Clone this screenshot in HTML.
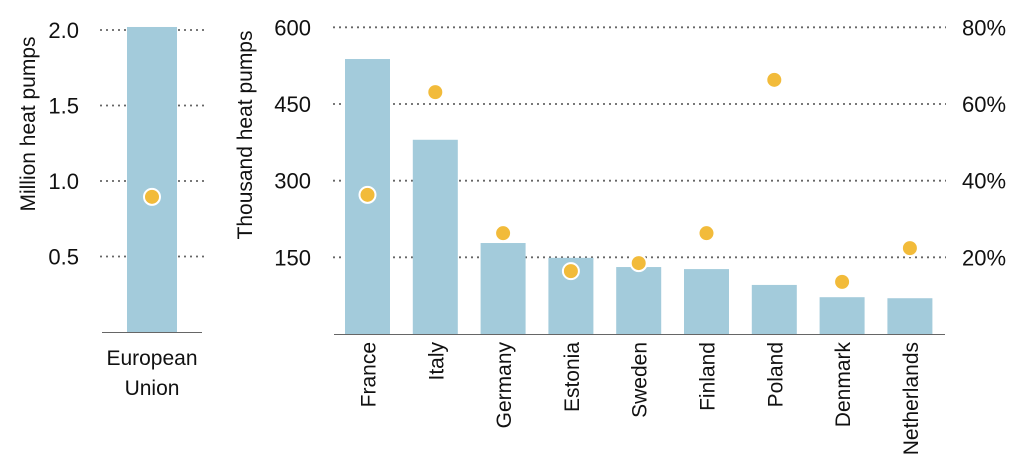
<!DOCTYPE html>
<html><head><meta charset="utf-8"><style>
html,body{margin:0;padding:0;background:#fff;}
svg{display:block;font-family:"Liberation Sans",sans-serif;}
</style></head><body>
<svg id="c" width="1024" height="476" viewBox="0 0 1024 476" xmlns="http://www.w3.org/2000/svg"></svg>
<script>
const euCategories = ["European", "Union"];
const euValue = [2.02];
const euDot = [0.895];
const euTicks = [0.5, 1.0, 1.5, 2.0];
const countries = ["France","Italy","Germany","Estonia","Sweden","Finland","Poland","Denmark","Netherlands"];
const thousands = [538,380,178,149,131,127,96,72,70];
const shares = [36.3,63.1,26.3,16.4,18.5,26.3,66.3,13.6,22.4];
const leftTicks = [150,300,450,600];
const rightTicks = [20,40,60,80];

const NS="http://www.w3.org/2000/svg";
const svg=document.getElementById('c');
function el(t,a,txt){const e=document.createElementNS(NS,t);for(const k in a)e.setAttribute(k,a[k]);if(txt!==undefined)e.textContent=txt;svg.appendChild(e);return e;}
const BAR="#a3cbdb", DOT="#f2bb3a", GRID="#666";

// EU panel
const yEU=v=>332-v*151;
for(const t of euTicks){
  const g=el('line',{x1:100,x2:204,y1:yEU(t),y2:yEU(t),stroke:GRID,'stroke-width':1.8,'stroke-dasharray':'2 4'});
  
  
  const l=el('text',{x:79,y:yEU(t)+8,'text-anchor':'end','font-size':22,fill:'#111'},t.toFixed(1));
  
  
}
let b=el('rect',{x:127,y:yEU(euValue[0]),width:50,height:332-yEU(euValue[0]),fill:BAR});


let ax=el('line',{x1:102,x2:202,y1:332.5,y2:332.5,stroke:'#666','stroke-width':1});


let d=el('circle',{cx:152,cy:yEU(euDot[0]),r:8,fill:DOT,stroke:'#fff','stroke-width':2});


euCategories.forEach((c,i)=>{const t=el('text',{x:152,y:365+i*30,'text-anchor':'middle','font-size':21,fill:'#111'},c);

});
let yt=el('text',{transform:'translate(35,124) rotate(-90)','text-anchor':'middle','font-size':21,fill:'#111'},'Million heat pumps');



// Countries panel
const y0=334, pxPerK=230/450, pxPerPct=230/60;
const yL=v=>y0-v*pxPerK, yR=p=>y0-p*pxPerPct;
const xC=i=>367.5+i*67.8;
for(let i=0;i<leftTicks.length;i++){
  const t=leftTicks[i];
  const g=el('line',{x1:333,x2:946,y1:yL(t),y2:yL(t),stroke:GRID,'stroke-width':1.8,'stroke-dasharray':'2 4'});
  
  
  const l=el('text',{x:311,y:yL(t)+8,'text-anchor':'end','font-size':22,fill:'#111'},String(t));
  
  
}
for(const p of rightTicks){
  const l=el('text',{x:962,y:yR(p)+8,'font-size':22,fill:'#111'},p+'%');
  
  
}
countries.forEach((c,i)=>{
  const r=el('rect',{x:xC(i)-22.5,y:yL(thousands[i]),width:45,height:y0-yL(thousands[i]),fill:BAR});
  
  
});
ax=el('line',{x1:334,x2:945,y1:334.5,y2:334.5,stroke:'#666','stroke-width':1});


countries.forEach((c,i)=>{
  const dd=el('circle',{cx:xC(i),cy:yR(shares[i]),r:8,fill:DOT,stroke:'#fff','stroke-width':2});
  
  
  const t=el('text',{transform:`translate(${xC(i)+8},342) rotate(-90)`,'text-anchor':'end','font-size':21,fill:'#111'},c);
  
  
});
yt=el('text',{transform:'translate(252,135) rotate(-90)','text-anchor':'middle','font-size':21,fill:'#111'},'Thousand heat pumps');


</script>
</body></html>
